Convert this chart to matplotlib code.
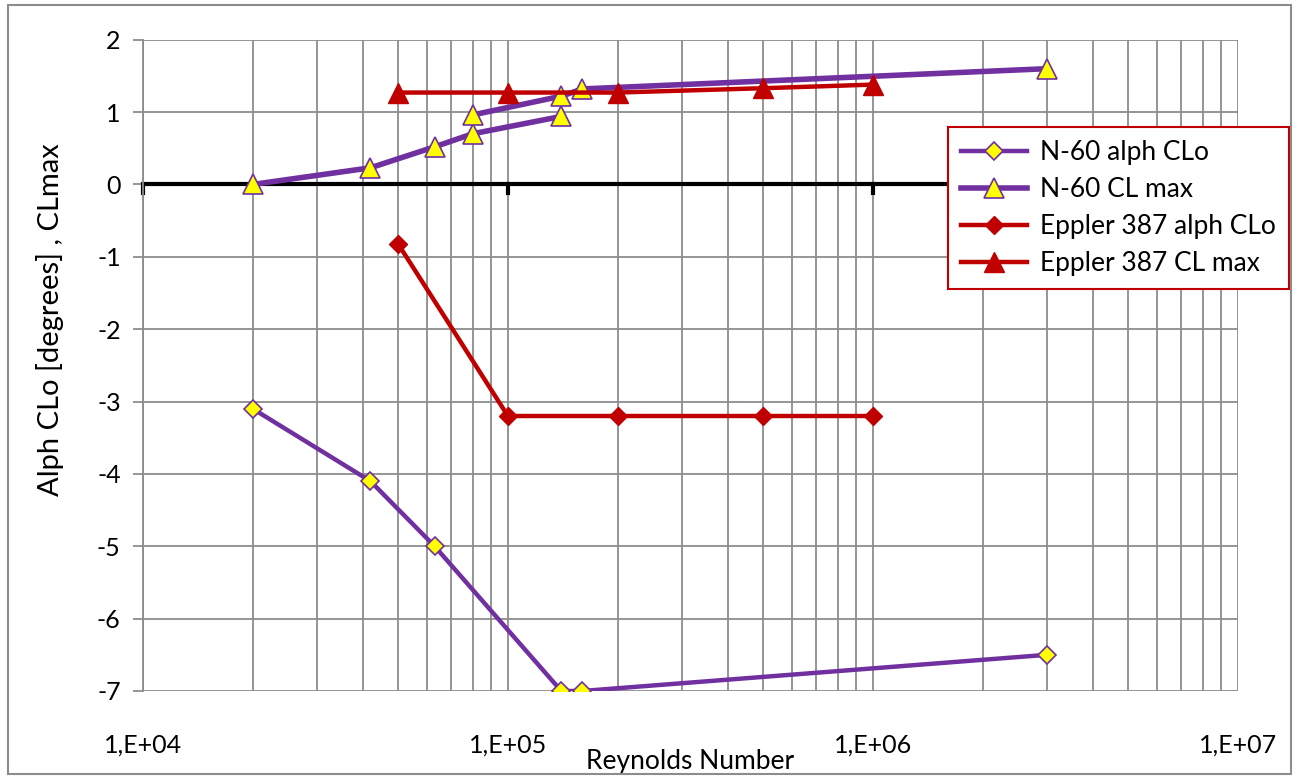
import matplotlib
matplotlib.use("Agg")
import matplotlib.pyplot as plt
import numpy as np
from matplotlib.ticker import FixedLocator, LogLocator, NullFormatter

# N-60 airfoil
n60_re_alpha = [20000, 42000, 63000, 140000, 160000, 3000000]
n60_alpha = [-3.1, -4.1, -5.0, -7.0, -7.0, -6.5]
# NaN splits the CL max series in two runs, as in the original sheet
n60_re_clmax = [20000, 42000, 63000, 80000, 140000, np.nan, 80000, 140000, 160000, 3000000]
n60_clmax = [0.0, 0.23, 0.52, 0.70, 0.94, np.nan, 0.96, 1.22, 1.32, 1.60]

# Eppler 387 airfoil
e387_re = [50000, 100000, 200000, 500000, 1000000]
e387_alpha = [-0.82, -3.2, -3.2, -3.2, -3.2]
e387_clmax = [1.27, 1.27, 1.27, 1.33, 1.38]

x_ticks = [1e4, 1e5, 1e6, 1e7]
x_ticklabels = ["1,E+04", "1,E+05", "1,E+06", "1,E+07"]

purple = "#7030A0"
red = "#C00000"
yellow = "#FFFF00"

plt.rcParams["font.family"] = ["Lato", "DejaVu Sans"]
plt.rcParams["axes.unicode_minus"] = False

fig = plt.figure(figsize=(12.99, 7.79), dpi=100)
ax = fig.add_axes([0.110, 0.113, 0.843, 0.836])

ax.set_xscale("log")
ax.set_xlim(1e4, 1e7)
ax.set_ylim(-7, 2)

# grid: minor verticals, major horizontals
ax.xaxis.set_minor_locator(LogLocator(base=10, subs=np.arange(2, 10)))
ax.xaxis.set_minor_formatter(NullFormatter())
ax.grid(True, which="both", axis="x", color="#8c8c8c", lw=1.3)
ax.grid(True, which="major", axis="y", color="#8c8c8c", lw=1.3)
ax.set_axisbelow(True)

for side in ["top", "right", "bottom"]:
    ax.spines[side].set_visible(False)
ax.spines["left"].set_color("#8c8c8c")
ax.spines["left"].set_linewidth(1.3)

ax.set_yticks(np.arange(-7, 3, 1))
ax.tick_params(axis="y", length=7, color="#8c8c8c", width=1.3, labelsize=18, pad=9)
ax.xaxis.set_major_locator(FixedLocator(x_ticks))
ax.set_xticklabels(x_ticklabels)
ax.tick_params(axis="x", which="both", length=0, labelsize=18, pad=31)

# black axis line at zero with decade ticks
ax.axhline(0, color="black", lw=3, zorder=2)
for xt in x_ticks[:-1]:
    ax.plot([xt, xt], [0, -0.12], color="black", lw=3, zorder=2, clip_on=False)

ax.plot(n60_re_alpha, n60_alpha, color=purple, lw=3.2, marker="D", ms=9,
        mfc=yellow, mec=purple, mew=1.2, label="N-60 alph CLo", zorder=3)
ax.plot(n60_re_clmax, n60_clmax, color=purple, lw=4, marker="^", ms=14,
        mfc=yellow, mec=purple, mew=1.2, label="N-60 CL max", zorder=3)
ax.plot(e387_re, e387_alpha, color=red, lw=3.2, marker="D", ms=9,
        mfc=red, mec=red, label="Eppler 387 alph CLo", zorder=3)
ax.plot(e387_re, e387_clmax, color=red, lw=3.2, marker="^", ms=14,
        mfc=red, mec=red, label="Eppler 387 CL max", zorder=3)

ax.set_xlabel("Reynolds Number", fontsize=19, labelpad=-6)
ax.set_ylabel("Alph CLo [degrees] , CLmax", fontsize=21)
ax.yaxis.set_label_coords(-0.072, 0.57)

leg = ax.legend(loc="upper left", bbox_to_anchor=(948 / 1299, 1 - 127 / 779),
                bbox_transform=fig.transFigure, fontsize=19, frameon=True,
                fancybox=False, framealpha=1, handlelength=2.5, borderpad=0.5,
                labelspacing=0.45, handletextpad=0.5, borderaxespad=0)
leg.get_frame().set_edgecolor(red)
leg.get_frame().set_linewidth(1.5)

# outer chart border
fig.patches.append(plt.Rectangle((0.006, 0.006), 0.988, 0.988, transform=fig.transFigure,
                                 fill=False, edgecolor="#8c8c8c", lw=1.5))

fig.savefig("out.png", dpi=100)
